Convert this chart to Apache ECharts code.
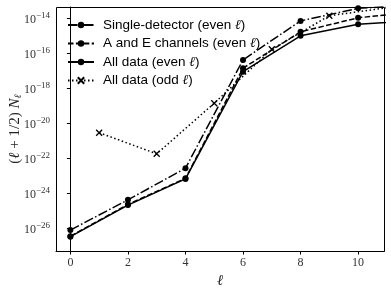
<!DOCTYPE html>
<html>
<head>
<meta charset="utf-8">
<script src="https://cdn.jsdelivr.net/npm/echarts@6/dist/echarts.min.js"></script>
<style>html,body{margin:0;padding:0;background:#fff}#c{width:391px;height:292px}</style>
</head>
<body>
<div id="c"></div>
<script>
// ---- data ----
const evenL = [0, 2, 4, 6, 8, 10, 12];
const oddL = [1, 3, 5, 7, 9, 11];
const singleDetector = [7.9e-27, 4.2e-25, 2.7e-23, 4.2e-17, 7.1e-15, 3.7e-14, 5.9e-14];
const aeChannels = [3.5e-27, 2.3e-25, 7.1e-24, 1.4e-17, 1.7e-15, 1.07e-14, 2.3e-14];
const allEven = [3.3e-27, 2.1e-25, 6.6e-24, 8.9e-18, 1.0e-15, 4.6e-15, 7.2e-15];
const allOdd = [2.9e-21, 1.8e-22, 1.4e-19, 1.7e-16, 1.4e-14, 4.0e-14];
const xTicks = [0, 2, 4, 6, 8, 10];
const yTicks = [1e-26, 1e-24, 1e-22, 1e-20, 1e-18, 1e-16, 1e-14];
const seriesNames = ['Single-detector (even ℓ)', 'A and E channels (even ℓ)', 'All data (even ℓ)', 'All data (odd ℓ)'];

function pairs(xs, ys) { return xs.map((x, i) => [x, ys[i]]); }

const serif = '"Liberation Serif", "DejaVu Serif", serif';
const sans = '"Liberation Sans", Arial, sans-serif';
const lw = 1.5;
const X_MIN = -0.5, X_MAX = 10.9;
const Y_MIN = Math.pow(10, -27.3), Y_MAX = Math.pow(10, -13.354);
const G = {left: 56, top: 7, right: 7, bottom: 41};
const W = 391, H = 292;

const chart = echarts.init(document.getElementById('c'), null, {renderer: 'canvas'});
const common = {
  type: 'line', clip: true, animation: false,
  symbol: 'circle', symbolSize: 6,
  itemStyle: {color: '#000'},
  emphasis: {disabled: true}
};
chart.setOption({
  animation: false,
  backgroundColor: '#fff',
  grid: Object.assign({containLabel: false, outerBoundsMode: 'none'}, G),
  graphic: [{
    type: 'rect', silent: true, z: 10,
    shape: {x: G.left + 0.5, y: G.top + 0.5, width: W - G.left - G.right, height: H - G.top - G.bottom},
    style: {fill: null, stroke: '#000', lineWidth: 1}
  }, {
    type: 'text', silent: true, z: 10,
    x: 15, y: 129, rotation: Math.PI / 2,
    style: {
      text: '{p|(}{i|ℓ}{p| + 1/2) }{i|N}{s|ℓ}',
      align: 'center', verticalAlign: 'middle',
      rich: {
        p: {fontFamily: serif, fontSize: 15, fill: '#222'},
        i: {fontFamily: serif, fontStyle: 'italic', fontSize: 15, fill: '#222'},
        s: {fontFamily: serif, fontStyle: 'italic', fontSize: 10, fill: '#222', verticalAlign: 'bottom', padding: [7, 0, 0, 0]}
      }
    }
  }],
  legend: {
    left: 62, top: 13, orient: 'vertical',
    itemWidth: 26, itemHeight: 8, itemGap: 4.5,
    data: seriesNames,
    formatter: n => n.replace('ℓ', '{l|ℓ}'),
    textStyle: {
      fontFamily: sans, fontSize: 13.5, color: '#000', padding: [0, 0, 0, 4],
      rich: {l: {fontFamily: serif, fontStyle: 'italic', fontSize: 13.5, color: '#000'}}
    }
  },
  xAxis: {
    type: 'value', min: X_MIN, max: X_MAX,
    name: 'ℓ', nameLocation: 'middle', nameGap: 22,
    nameTextStyle: {fontFamily: serif, fontStyle: 'italic', fontSize: 15, color: '#222'},
    axisLine: {lineStyle: {color: '#000', width: 1}},
    axisTick: {length: 3.5, lineStyle: {color: '#000'}, customValues: xTicks},
    axisLabel: {customValues: xTicks, fontFamily: serif, fontSize: 12, color: '#333', margin: 6},
    splitLine: {show: false}
  },
  yAxis: {
    type: 'log', logBase: 10, min: Y_MIN, max: Y_MAX,
    axisLine: {show: true, lineStyle: {color: '#000', width: 1}},
    axisTick: {length: 3.5, lineStyle: {color: '#000'}, customValues: yTicks},
    axisLabel: {
      customValues: yTicks, margin: 6,
      formatter: v => '{b|10}{s|−' + Math.round(-Math.log10(v)) + '}',
      rich: {
        b: {fontFamily: serif, fontSize: 12, color: '#333', verticalAlign: 'bottom'},
        s: {fontFamily: serif, fontSize: 9, color: '#333', verticalAlign: 'top', padding: [0, 0, 6, 0]}
      }
    },
    splitLine: {show: false}
  },
  series: [
    Object.assign({}, common, {name: seriesNames[0], data: pairs(evenL, singleDetector), z: 4,
      lineStyle: {color: '#000', width: lw, type: [9.6, 2.4, 1.5, 2.4]}}),
    Object.assign({}, common, {name: seriesNames[1], data: pairs(evenL, aeChannels), z: 3,
      lineStyle: {color: '#000', width: lw, type: [5.5, 2.4]}}),
    Object.assign({}, common, {name: seriesNames[2], data: pairs(evenL, allEven), z: 5,
      lineStyle: {color: '#000', width: lw, type: 'solid'}}),
    Object.assign({}, common, {name: seriesNames[3], data: pairs(oddL, allOdd), z: 2,
      symbol: 'path://M0,0L10,10M10,0L0,10', symbolSize: 6,
      itemStyle: {color: 'none', borderColor: '#000', borderWidth: 1.3},
      lineStyle: {color: '#000', width: lw, type: [1.5, 2.5]}})
  ]
});
</script>
</body>
</html>
